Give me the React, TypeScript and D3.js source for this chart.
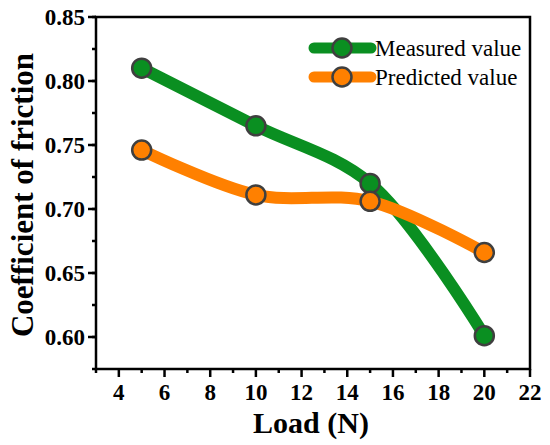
import React from 'react';
import * as d3 from 'd3';

// Load (N) values and the two friction series
const loads = [5, 10, 15, 20];
const measured = [0.81, 0.765, 0.72, 0.601];
const predicted = [0.746, 0.711, 0.706, 0.666];
const xTicks = [4, 6, 8, 10, 12, 14, 16, 18, 20, 22];
const yTicks = [0.6, 0.65, 0.7, 0.75, 0.8, 0.85];

const seriesNames = ['Measured value', 'Predicted value'];
const seriesColors = ['#0a8f21', '#ff8000'];

const W = 550;
const H = 445;
const margin = { top: 17, right: 20, bottom: 76, left: 96 };
const serif = '"Liberation Serif", "Times New Roman", serif';

const App: React.FC = () => {
    const innerW = W - margin.left - margin.right;
    const innerH = H - margin.top - margin.bottom;

    const x = d3.scaleLinear().domain([3, 22]).range([0, innerW]);
    const y = d3.scaleLinear().domain([0.575, 0.85]).range([innerH, 0]);

    const line = d3
        .line<[number, number]>()
        .x((d) => x(d[0]))
        .y((d) => y(d[1]))
        .curve(d3.curveCatmullRom.alpha(0.5));

    const series = [measured, predicted].map((vals) =>
        loads.map((l, i) => [l, vals[i]] as [number, number]),
    );

    const xMinor = d3.range(3, 23, 1).filter((v) => v % 2 === 1);
    const yMinor = d3.range(0, 12).map((i) => 0.575 + i * 0.025).filter((v) => v <= 0.851);

    return (
        <svg width={W} height={H} style={{ display: 'block', position: 'absolute', left: 0, top: 0 }}>
            <rect width={W} height={H} fill="#fff" />
            <g transform={`translate(${margin.left},${margin.top})`}>
                {/* series lines */}
                {series.map((pts, i) => (
                    <path
                        key={`l${i}`}
                        d={line(pts) || ''}
                        fill="none"
                        stroke={seriesColors[i]}
                        strokeWidth={12}
                        strokeLinecap="round"
                        strokeLinejoin="round"
                    />
                ))}
                {/* markers */}
                {series.map((pts, i) =>
                    pts.map((p, j) => (
                        <circle
                            key={`m${i}-${j}`}
                            cx={x(p[0])}
                            cy={y(p[1])}
                            r={9.5}
                            fill={seriesColors[i]}
                            stroke="#3f3f3f"
                            strokeWidth={2.5}
                        />
                    )),
                )}

                {/* frame */}
                <rect x={0} y={0} width={innerW} height={innerH} fill="none" stroke="#000" strokeWidth={2.5} />

                {/* x ticks */}
                {xTicks.map((t) => (
                    <g key={`xt${t}`}>
                        <line x1={x(t)} x2={x(t)} y1={innerH} y2={innerH + 8} stroke="#000" strokeWidth={2.5} />
                        <text
                            x={x(t)}
                            y={innerH + 31}
                            textAnchor="middle"
                            fontFamily={serif}
                            fontWeight="bold"
                            fontSize={23}
                        >
                            {t}
                        </text>
                    </g>
                ))}
                {xMinor.map((t) => (
                    <line key={`xm${t}`} x1={x(t)} x2={x(t)} y1={innerH} y2={innerH + 4} stroke="#000" strokeWidth={2.5} />
                ))}

                {/* y ticks */}
                {yTicks.map((t) => (
                    <g key={`yt${t}`}>
                        <line x1={0} x2={-8} y1={y(t)} y2={y(t)} stroke="#000" strokeWidth={2.5} />
                        <text
                            x={-11}
                            y={y(t)}
                            dy="0.35em"
                            textAnchor="end"
                            fontFamily={serif}
                            fontWeight="bold"
                            fontSize={23}
                        >
                            {t.toFixed(2)}
                        </text>
                    </g>
                ))}
                {yMinor.map((t, i) => (
                    <line key={`ym${i}`} x1={0} x2={-4} y1={y(t)} y2={y(t)} stroke="#000" strokeWidth={2.5} />
                ))}

                {/* axis titles */}
                <text
                    x={innerW / 2 - 2}
                    y={innerH + 64}
                    textAnchor="middle"
                    fontFamily={serif}
                    fontWeight="bold"
                    fontSize={30}
                >
                    Load (N)
                </text>
                <text
                    transform={`translate(${-63},${innerH / 2 + 2}) rotate(-90)`}
                    textAnchor="middle"
                    fontFamily={serif}
                    fontWeight="bold"
                    fontSize={31}
                >
                    Coefficient of friction
                </text>
            </g>

            {/* legend */}
            {seriesNames.map((name, i) => {
                const ly = 48 + i * 29;
                return (
                    <g key={`lg${i}`}>
                        <line x1={314} x2={371} y1={ly} y2={ly} stroke={seriesColors[i]} strokeWidth={11} strokeLinecap="round" />
                        <circle cx={342} cy={ly} r={9.5} fill={seriesColors[i]} stroke="#3f3f3f" strokeWidth={2.5} />
                        <text x={375} y={ly} dy="0.33em" fontFamily={serif} fontSize={23}>
                            {name}
                        </text>
                    </g>
                );
            })}
        </svg>
    );
};

export default App;
